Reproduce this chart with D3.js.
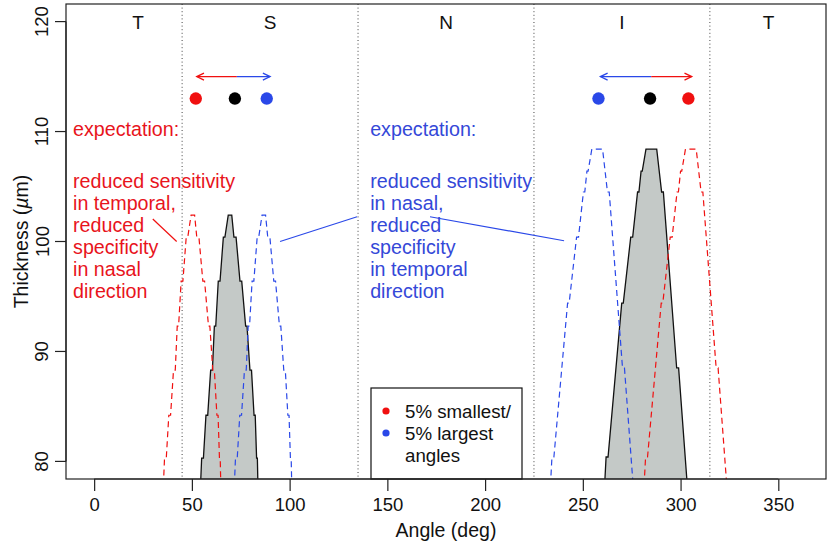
<!DOCTYPE html>
<html><head><meta charset="utf-8">
<script src="https://cdn.jsdelivr.net/npm/d3@7"></script>
<style>body{margin:0;background:#fff}svg{display:block}text{font-family:"Liberation Sans",Arial,Helvetica,sans-serif}</style>
</head><body><svg id="c" width="830" height="545"></svg>
<script>
// ---- data ----
const regionBorders = [45, 135, 225, 315];
const regionLabels = ["T", "S", "N", "I", "T"];
const regionLabelAngles = [22.5, 90, 180, 270, 345];
const xTicks = [0, 50, 100, 150, 200, 250, 300, 350];
const yTicks = [80, 90, 100, 110, 120];

const graySup = [[54.0,76],[55.0,80.3],[55.9,80.3],[57.2,84.2],[58.1,84.2],[59.6,88.3],[60.5,88.3],[61.5,92.3],[62.2,92.3],[63.5,96.4],[64.4,96.4],[66.1,100.4],[66.9,100.4],[68.6,102.4],[70.4,102.4],[71.5,100.4],[72.6,100.4],[74.6,96.4],[75.5,96.4],[77.5,92.3],[78.2,92.3],[79.7,88.3],[80.5,88.3],[81.8,84.2],[82.4,84.2],[83.1,80.3],[83.5,80.3],[84.0,76]];
const redSup = [[35.0,76],[36.0,80.3],[36.9,80.3],[38.2,84.2],[39.1,84.2],[40.6,88.3],[41.5,88.3],[42.5,92.3],[43.2,92.3],[44.5,96.4],[45.4,96.4],[47.1,100.4],[47.9,100.4],[49.6,102.4],[51.4,102.4],[52.5,100.4],[53.6,100.4],[55.6,96.4],[56.5,96.4],[58.5,92.3],[59.2,92.3],[60.7,88.3],[61.5,88.3],[62.8,84.2],[63.4,84.2],[64.1,80.3],[64.5,80.3],[65.0,76]];
const blueSup = [[71.3,76],[72.3,80.3],[73.2,80.3],[74.5,84.2],[75.4,84.2],[76.9,88.3],[77.8,88.3],[78.8,92.3],[79.5,92.3],[80.8,96.4],[81.7,96.4],[83.4,100.4],[84.2,100.4],[85.9,102.4],[87.7,102.4],[88.8,100.4],[89.9,100.4],[91.9,96.4],[92.8,96.4],[94.8,92.3],[95.5,92.3],[97.0,88.3],[97.8,88.3],[99.1,84.2],[99.7,84.2],[100.4,80.3],[100.8,80.3],[101.3,76]];

const grayInf = [[260.6,76],[261.9,80.4],[262.9,80.4],[269.9,94.4],[270.7,94.4],[274.5,100.4],[275.5,100.4],[278.0,104.5],[278.7,104.5],[279.8,106.4],[280.4,106.4],[282.3,108.4],[287.8,108.4],[290.3,104.5],[291.2,104.5],[298.0,88.5],[299.0,88.5],[304.2,76]];
const blueInf = [[232.9,76],[234.2,80.4],[235.2,80.4],[242.2,94.4],[243.0,94.4],[246.8,100.4],[247.8,100.4],[250.3,104.5],[251.0,104.5],[252.1,106.4],[252.7,106.4],[254.6,108.4],[260.1,108.4],[262.6,104.5],[263.5,104.5],[270.3,88.5],[271.3,88.5],[276.5,76]];
const redInf = [[280.8,76],[282.1,80.4],[283.1,80.4],[290.1,94.4],[290.9,94.4],[294.7,100.4],[295.7,100.4],[298.2,104.5],[298.9,104.5],[300.0,106.4],[300.6,106.4],[302.5,108.4],[308.0,108.4],[310.5,104.5],[311.4,104.5],[318.2,88.5],[319.2,88.5],[324.4,76]];

const dotLevel = 113;
const arrowLevel = 115;
const dotsSup = [{a:52, c:"red"}, {a:72, c:"black"}, {a:88.3, c:"blue"}];
const dotsInf = [{a:258, c:"blue"}, {a:284.4, c:"black"}, {a:304, c:"red"}];
const arrowsSup = [{from:73, to:52.5, c:"red"}, {from:73, to:90, c:"blue"}];
const arrowsInf = [{from:285, to:259, c:"blue"}, {from:285, to:305.7, c:"red"}];

const redText = ["expectation:", "", "reduced sensitivity", "in temporal,", "reduced", "specificity", "in nasal", "direction"];
const blueText = ["expectation:", "", "reduced sensitivity", "in nasal,", "reduced", "specificity", "in temporal", "direction"];
const redConnector = [[30, 102.05], [42.2, 100.0]];
const blueConnectors = [[[95.1, 100.0], [134.5, 102.25]], [[171.8, 102.25], [240.4, 100.07]]];
const legendLabels = ["5% smallest/", "5% largest", "angles"];
const legendColors = ["red", "blue", null];

// ---- drawing ----
const COL = {red:"#f01010", blue:"#2a48e8", black:"#000"};
const svg = d3.select("#c");
const L = 66, R = 826, T = 4, B = 479;
const x = d3.scaleLinear().domain([-14.4, 374.4]).range([L, R]);
const y = d3.scaleLinear().domain([78.4, 121.6]).range([B, T]);
const FS = 18.5, FA = 19.7, FT = 19.5;

svg.append("defs").append("clipPath").attr("id","clip")
  .append("rect").attr("x",L).attr("y",T).attr("width",R-L).attr("height",B-T);
const plot = svg.append("g").attr("clip-path","url(#clip)");

// region borders
plot.selectAll("line.rb").data(regionBorders).join("line")
  .attr("x1",d=>x(d)).attr("x2",d=>x(d)).attr("y1",T).attr("y2",B)
  .attr("stroke","#444").attr("stroke-width",1).attr("stroke-dasharray","1,2.6");

const line = d3.line().x(d=>x(d[0])).y(d=>y(d[1]));
// gray polygons
[graySup, grayInf].forEach(p=>{
  plot.append("path").attr("d", line(p)+"Z").attr("fill","#c4c9c7")
    .attr("stroke","#111").attr("stroke-width",1.3).attr("stroke-linejoin","miter");
});
// dashed
[[redSup,COL.red],[blueSup,COL.blue],[redInf,COL.red],[blueInf,COL.blue]].forEach(([p,c])=>{
  plot.append("path").attr("d", line(p)).attr("fill","none")
    .attr("stroke",c).attr("stroke-width",1.2).attr("stroke-dasharray","6,4");
});

// region labels
svg.selectAll("text.rl").data(regionLabels).join("text")
  .attr("x",(d,i)=>x(regionLabelAngles[i])).attr("y",y(120)+7)
  .attr("text-anchor","middle").attr("font-size",19).attr("fill","#111").text(d=>d);

// arrows
function arrow(a){
  const x1=x(a.from), x2=x(a.to), yy=y(arrowLevel);
  plot.append("line").attr("x1",x1).attr("x2",x2).attr("y1",yy).attr("y2",yy)
    .attr("stroke",COL[a.c]).attr("stroke-width",1.3);
  const dir = x2 > x1 ? -1 : 1, len = 8, ang = Math.PI/7;
  plot.append("path")
    .attr("d",`M${x2+dir*len*Math.cos(ang)},${yy-len*Math.sin(ang)}L${x2},${yy}L${x2+dir*len*Math.cos(ang)},${yy+len*Math.sin(ang)}`)
    .attr("fill","none").attr("stroke",COL[a.c]).attr("stroke-width",1.3);
}
arrowsSup.concat(arrowsInf).forEach(arrow);
// dots
plot.selectAll("circle.dot").data(dotsSup.concat(dotsInf)).join("circle")
  .attr("cx",d=>x(d.a)).attr("cy",y(dotLevel)).attr("r",6.2).attr("fill",d=>COL[d.c]);

// expectation texts
const LH = 22;
svg.append("g").selectAll("text").data(redText).join("text")
  .attr("x",x(-10.8)).attr("y",(d,i)=>y(110)+4+ (i<2? 0 : (i*LH + 8))).attr("font-size",FA).attr("fill","#e8141c").text(d=>d);
svg.append("g").selectAll("text").data(blueText).join("text")
  .attr("x",x(141.2)).attr("y",(d,i)=>y(110)+4+ (i<2? 0 : (i*LH + 8))).attr("font-size",FA).attr("fill","#3448d8").text(d=>d);
plot.append("path").attr("d",line(redConnector)).attr("stroke",COL.red).attr("stroke-width",1.2);
blueConnectors.forEach(c=>plot.append("path").attr("d",line(c)).attr("stroke",COL.blue).attr("stroke-width",1.2));

// legend
const lg = svg.append("g");
lg.append("rect").attr("x",371).attr("y",388).attr("width",151).attr("height",B-388)
  .attr("fill","#fff").attr("stroke","#111").attr("stroke-width",1.2);
lg.selectAll("circle").data(legendColors.filter(c=>c)).join("circle")
  .attr("cx",386).attr("cy",(d,i)=>411+i*22).attr("r",3.6).attr("fill",d=>COL[d]);
lg.selectAll("text").data(legendLabels).join("text")
  .attr("x",405).attr("y",(d,i)=>418+i*22).attr("font-size",18.7).attr("fill","#111").text(d=>d);

// box
svg.append("rect").attr("x",L).attr("y",T).attr("width",R-L).attr("height",B-T)
  .attr("fill","none").attr("stroke","#222").attr("stroke-width",1.2);

// axes
const xa = svg.append("g").attr("transform",`translate(0,${B})`)
  .call(d3.axisBottom(x).tickValues(xTicks).tickSize(12).tickPadding(4).tickSizeOuter(0));
xa.select(".domain").attr("d",`M${x(0)},0H${x(350)}`);
xa.selectAll("text").attr("font-size",FS).attr("font-family",null).attr("fill","#111").attr("dy","0.85em");
const ya = svg.append("g").attr("transform",`translate(${L},0)`)
  .call(d3.axisLeft(y).tickValues(yTicks).tickSize(11).tickSizeOuter(0));
ya.select(".domain").attr("d",`M0,${y(80)}V${y(120)}`);
ya.selectAll("text").attr("font-size",FS).attr("font-family",null).attr("fill","#111")
  .attr("transform",d=>`rotate(-90,${-17.5},${y(d)})`).attr("x",-17.5).attr("y",d=>y(d)).attr("dy",0)
  .attr("text-anchor","middle");
ya.selectAll(".tick").attr("transform",null);
ya.selectAll(".tick line").attr("y1",d=>y(d)).attr("y2",d=>y(d));
svg.selectAll(".tick line, .domain").attr("stroke","#222").attr("stroke-width",1.2);

// titles
svg.append("text").attr("x",(L+R)/2).attr("y",537).attr("text-anchor","middle").attr("font-size",FT).attr("fill","#111").text("Angle (deg)");
const yt = svg.append("text").attr("transform",`translate(28,${(T+B)/2}) rotate(-90)`).attr("text-anchor","middle").attr("font-size",FT).attr("fill","#111");
yt.append("tspan").text("Thickness (");
yt.append("tspan").attr("font-style","italic").text("µ");
yt.append("tspan").text("m)");
</script></body></html>
